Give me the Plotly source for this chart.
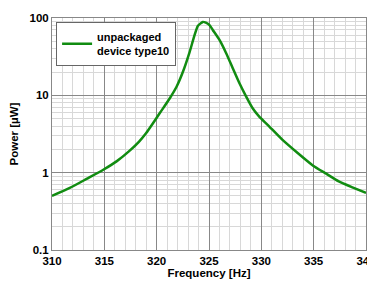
import plotly.graph_objects as go

freq = [310.0, 311.7, 313.3, 314.9, 316.2, 317.4, 318.3, 319.0, 319.6, 320.3, 321.24, 321.9,
        322.5, 323.14, 323.62, 323.93, 324.41, 324.7, 325.05, 325.36, 326.0, 326.64, 327.27,
        327.9, 328.54, 329.17, 329.8, 330.6, 332.0, 333.5, 334.95, 336.2, 337.4, 338.7, 340.0]
power = [0.50, 0.634, 0.83, 1.09, 1.41, 1.91, 2.5, 3.25, 4.25, 5.9, 9.1, 12.9,
         20.0, 36.0, 60.0, 79.0, 89.0, 87.0, 81.0, 70.0, 52.0, 35.0, 22.4,
         14.4, 9.7, 6.8, 5.3, 4.16, 2.67, 1.78, 1.23, 0.97, 0.77, 0.645, 0.547]
x_ticks = [310, 315, 320, 325, 330, 335, 340]
y_ticks = [0.1, 1, 10, 100]
y_labels = ["0.1", "1", "10", "100"]

FONT = "Liberation Sans, Arial, sans-serif"
BOLD = dict(family=FONT, size=11.5, weight="bold", color="black")
fig = go.Figure()
fig.add_trace(go.Scatter(x=freq, y=power, mode="lines",
                         line=dict(color="#118c11", width=2.5, shape="spline", smoothing=0.5),
                         name="unpackaged<br>device type10"))
# page body has an 8px default margin; size and margins compensate for that offset
fig.update_layout(
    width=367, height=281,
    margin=dict(l=44, r=9, t=10, b=39),
    plot_bgcolor="white", paper_bgcolor="white",
    font=dict(family=FONT, size=11, color="black"),
    showlegend=True,
    legend=dict(x=0.013, y=0.983, xanchor="left", yanchor="top", bgcolor="white",
                bordercolor="#666", borderwidth=1,
                font=dict(family=FONT, size=11, weight="bold", color="black"),
                itemwidth=30, tracegroupgap=0),
)
fig.update_xaxes(range=[310, 340], tickvals=x_ticks, showgrid=True, gridcolor="#888", gridwidth=1,
                 ticks="", tickfont=BOLD, automargin=False, ticklabeloverflow="allow",
                 title=dict(text="Frequency [Hz]", font=BOLD, standoff=2),
                 showline=True, linecolor="#888", mirror=True, zeroline=False,
                 minor=dict(dtick=1, showgrid=True, gridcolor="#d8d8d8", gridwidth=1))
fig.update_yaxes(type="log", range=[-1, 2], tickvals=y_ticks, ticktext=y_labels, showgrid=True, gridcolor="#888",
                 ticks="", tickfont=BOLD, automargin=False, ticklabeloverflow="allow",
                 title=dict(text="Power [µW]", font=BOLD, standoff=16),
                 showline=True, linecolor="#888", mirror=True, zeroline=False,
                 minor=dict(dtick="D1", showgrid=True, gridcolor="#d8d8d8", gridwidth=1))
fig.write_html("out.html")
